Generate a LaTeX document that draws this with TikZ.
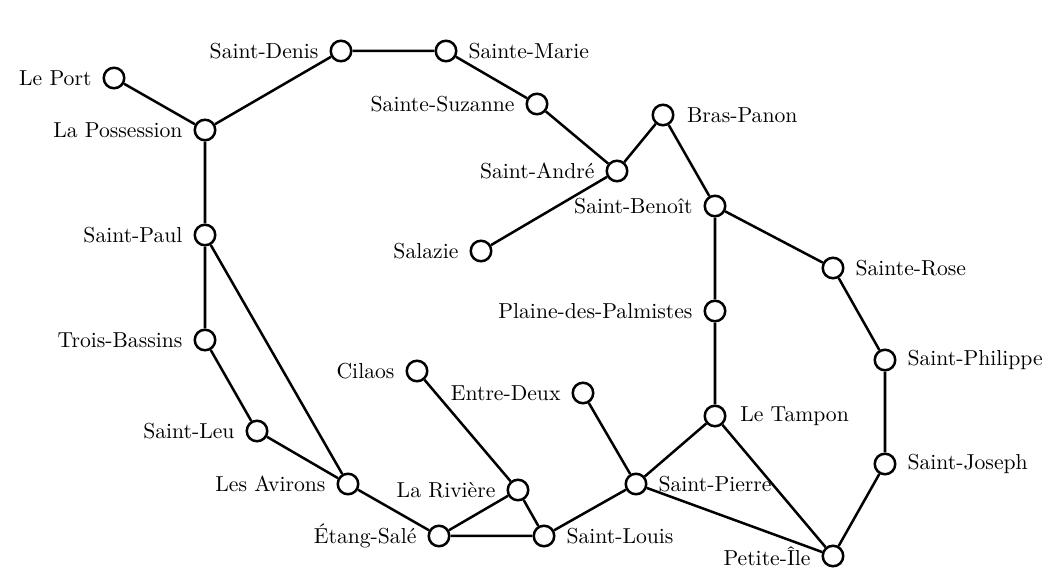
\documentclass[tikz,border=0pt]{standalone}
\begin{document}
\begin{tikzpicture}[x=0.4386pt,y=-0.4386pt,
  town/.style={circle,draw=black,fill=white,line width=1.1pt,minimum size=9pt,inner sep=0pt},
  link/.style={draw=black,line width=1.1pt},
  every label/.style={font=\fontsize{9.5}{12}\selectfont},
  label distance=1.3pt]
\useasboundingbox (0,0) rectangle (1064,588);
\node[town,label=left:{Le Port}] (a) at (114,78) {};
\node[town,label=left:{La Possession}] (b) at (205,130) {};
\node[town,label=left:{Saint-Denis}] (c) at (341,51) {};
\node[town,label=right:{Sainte-Marie}] (d) at (446,51) {};
\node[town,label=left:{Sainte-Suzanne}] (e) at (537,104) {};
\node[town,label=left:{Saint-André}] (f) at (617,171) {};
\node[town,label={[label distance=2pt]right:{Bras-Panon}}] (g) at (663,115) {};
\node[town,label=left:{Saint-Benoît}] (h) at (715,206) {};
\node[town,label=left:{Salazie}] (i) at (481,251) {};
\node[town,label=right:{Sainte-Rose}] (j) at (833,268) {};
\node[town,label=left:{Plaine-des-Palmistes}] (k) at (715,311) {};
\node[town,label=right:{Saint-Philippe}] (l) at (885,360) {};
\node[town,label={[label distance=2.5pt]right:{Le Tampon}}] (m) at (715,416) {};
\node[town,label=right:{Saint-Joseph}] (n) at (885,464) {};
\node[town,label=left:{Petite-Île}] (o) at (833,556) {};
\node[town,label=right:{Saint-Pierre}] (p) at (636,484) {};
\node[town,label=left:{Entre-Deux}] (q) at (583,393) {};
\node[town,label=right:{Saint-Louis}] (r) at (544,536) {};
\node[town,label=left:{La Rivière}] (s) at (518,490) {};
\node[town,label=left:{Cilaos}] (t) at (417,371) {};
\node[town,label=left:{Étang-Salé}] (u) at (439,536) {};
\node[town,label=left:{Les Avirons}] (v) at (348,484) {};
\node[town,label=left:{Saint-Leu}] (w) at (257,431) {};
\node[town,label=left:{Trois-Bassins}] (x) at (205,340) {};
\node[town,label=left:{Saint-Paul}] (y) at (205,235) {};
\path[link] (a)--(b) (b)--(c) (c)--(d) (d)--(e) (e)--(f) (f)--(g) (g)--(h) (f)--(i)
 (h)--(j) (h)--(k) (k)--(m) (j)--(l) (l)--(n) (n)--(o) (m)--(o) (m)--(p) (p)--(o)
 (p)--(q) (p)--(r) (r)--(s) (t)--(s) (s)--(u) (u)--(r) (u)--(v) (v)--(w) (w)--(x)
 (x)--(y) (y)--(v) (y)--(b);
\end{tikzpicture}
\end{document}
